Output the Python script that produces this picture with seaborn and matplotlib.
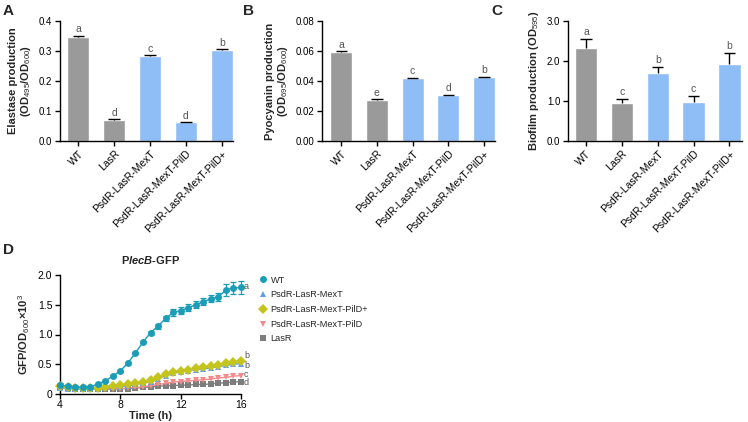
import numpy as np
import pandas as pd
import matplotlib
matplotlib.use("Agg")
import matplotlib.pyplot as plt
import seaborn as sns
from matplotlib.lines import Line2D

# ---------------- data ----------------
strains = ["WT", "LasR", "PsdR-LasR-MexT", "PsdR-LasR-MexT-PilD", "PsdR-LasR-MexT-PilD+"]
elastase = [0.345, 0.070, 0.282, 0.062, 0.304]
elastase_err = [0.006, 0.002, 0.003, 0.002, 0.003]
elastase_sig = ["a", "d", "c", "d", "b"]
pyocyanin = [0.0591, 0.0271, 0.0417, 0.0308, 0.0428]
pyocyanin_err = [0.0006, 0.0006, 0.0005, 0.0, 0.0]
pyocyanin_sig = ["a", "e", "c", "d", "b"]
biofilm = [2.33, 0.96, 1.69, 0.97, 1.92]
biofilm_err = [0.22, 0.09, 0.16, 0.15, 0.28]
biofilm_sig = ["a", "c", "b", "c", "b"]

time_h = [4, 4.5, 5, 5.5, 6, 6.5, 7, 7.5, 8, 8.5, 9, 9.5, 10, 10.5, 11, 11.5,
          12, 12.5, 13, 13.5, 14, 14.5, 15, 15.5, 16]
gfp_wt = [0.15, 0.13, 0.12, 0.11, 0.12, 0.17, 0.22, 0.30, 0.39, 0.52, 0.69, 0.87, 1.03,
          1.14, 1.27, 1.37, 1.40, 1.45, 1.50, 1.55, 1.60, 1.63, 1.75, 1.78, 1.79]
gfp_wt_err = [0.03, 0.02, 0.02, 0.02, 0.02, 0.02, 0.02, 0.02, 0.02, 0.02, 0.02, 0.02, 0.03,
              0.04, 0.04, 0.06, 0.06, 0.06, 0.06, 0.06, 0.06, 0.06, 0.10, 0.10, 0.11]
gfp_mext = [0.10, 0.09, 0.09, 0.08, 0.08, 0.09, 0.10, 0.11, 0.12, 0.14, 0.16, 0.18, 0.21,
            0.26, 0.31, 0.35, 0.37, 0.39, 0.41, 0.42, 0.44, 0.46, 0.48, 0.50, 0.51]
gfp_pild_plus = [0.13, 0.11, 0.10, 0.10, 0.10, 0.10, 0.11, 0.13, 0.15, 0.16, 0.18, 0.20, 0.23,
                 0.28, 0.33, 0.37, 0.39, 0.41, 0.43, 0.45, 0.47, 0.49, 0.52, 0.54, 0.55]
gfp_pild = [0.10, 0.09, 0.08, 0.08, 0.08, 0.08, 0.08, 0.09, 0.09, 0.10, 0.11, 0.12, 0.14,
            0.16, 0.18, 0.20, 0.21, 0.22, 0.23, 0.24, 0.25, 0.27, 0.28, 0.30, 0.31]
gfp_lasr = [0.11, 0.10, 0.09, 0.08, 0.08, 0.08, 0.08, 0.08, 0.09, 0.09, 0.10, 0.11, 0.12,
            0.13, 0.14, 0.14, 0.15, 0.15, 0.16, 0.16, 0.17, 0.18, 0.19, 0.20, 0.21]
line_series = ["WT", "PsdR-LasR-MexT", "PsdR-LasR-MexT-PilD+", "PsdR-LasR-MexT-PilD", "LasR"]
line_sig = ["a", "b", "b", "c", "d"]
line_sig_pos = [1.80, 0.48, 0.65, 0.33, 0.19]

# ---------------- style ----------------
sns.set_style("ticks")
plt.rcParams["font.family"] = ["Liberation Sans", "DejaVu Sans"]
plt.rcParams["mathtext.fontset"] = "custom"
plt.rcParams["mathtext.rm"] = "Liberation Sans"
plt.rcParams["mathtext.it"] = "Liberation Sans:italic"
plt.rcParams["mathtext.bf"] = "Liberation Sans:bold"
plt.rcParams["mathtext.bfit"] = "Liberation Sans:bold:italic"

GRAY = "#9a9a9a"
BLUE = "#8fbdf6"
bar_colors = [GRAY, GRAY, BLUE, BLUE, BLUE]
line_colors = {"WT": "#1b9db8", "PsdR-LasR-MexT": "#5e9cf2",
               "PsdR-LasR-MexT-PilD+": "#c4c41c", "PsdR-LasR-MexT-PilD": "#f58a8c",
               "LasR": "#7d7d7d"}
line_markers = {"WT": "o", "PsdR-LasR-MexT": "^", "PsdR-LasR-MexT-PilD+": "D",
                "PsdR-LasR-MexT-PilD": "v", "LasR": "s"}
marker_sizes = {"WT": 5, "PsdR-LasR-MexT": 5, "PsdR-LasR-MexT-PilD+": 5,
                "PsdR-LasR-MexT-PilD": 5, "LasR": 4.5}

YTICK_FS = 7
XTICK_FS = 7.5
LAB_FS = 8
SIG_COLOR = "#555555"

fig = plt.figure(figsize=(7.48, 4.22), dpi=100)
W, H = 748, 422


def add_axes_px(x0, x1, ytop, ybot):
    return fig.add_axes([x0 / W, 1 - ybot / H, (x1 - x0) / W, (ybot - ytop) / H])


def style_axes(ax):
    sns.despine(ax=ax)
    for s in ["left", "bottom"]:
        ax.spines[s].set_linewidth(1.0)
        ax.spines[s].set_color("black")
    ax.tick_params(axis="both", direction="out", length=3.5, width=1.0,
                   colors="black", pad=2)
    ax.tick_params(axis="y", labelsize=YTICK_FS)
    ax.tick_params(axis="x", labelsize=XTICK_FS)


def bar_panel(ax, values, errs, sig, ylim, yticks, yfmt, ylabel, xlim, sig_off):
    df = pd.DataFrame({"strain": strains, "value": values})
    sns.barplot(data=df, x="strain", y="value", hue="strain", palette=bar_colors,
                order=strains, hue_order=strains, width=0.62, legend=False,
                errorbar=None, saturation=1, ax=ax)
    x = np.arange(len(strains))
    v = np.array(values)
    e = np.array(errs)
    ax.vlines(x, v, v + e, color="black", lw=1.0, zorder=3)
    ax.hlines(v + e, x - 0.16, x + 0.16, color="black", lw=1.0, zorder=3)
    for xi, vi, ei, s in zip(x, v, e, sig):
        ax.text(xi, vi + ei + sig_off, s, ha="center", va="bottom",
                fontsize=7.5, color=SIG_COLOR)
    ax.set_ylim(*ylim)
    ax.set_xlim(*xlim)
    ax.set_yticks(yticks)
    ax.set_yticklabels([yfmt.format(t) for t in yticks])
    ax.set_xlabel("")
    ax.set_ylabel(ylabel, fontsize=LAB_FS, fontweight="bold", labelpad=4,
                  linespacing=1.1)
    style_axes(ax)
    ax.set_xticks(x)
    ax.set_xticklabels(strains, rotation=45, ha="right", rotation_mode="anchor")


axA = add_axes_px(60, 233, 21, 141)
bar_panel(axA, elastase, elastase_err, elastase_sig, (0, 0.4),
          [0, 0.1, 0.2, 0.3, 0.4], "{:.1f}",
          "Elastase production\n(OD$_{495}$/OD$_{600}$)", (-0.51, 4.31), 0.004)

axB = add_axes_px(322, 495, 21, 141)
bar_panel(axB, pyocyanin, pyocyanin_err, pyocyanin_sig, (0, 0.08),
          [0, 0.02, 0.04, 0.06, 0.08], "{:.2f}",
          "Pyocyanin production\n(OD$_{695}$/OD$_{600}$)", (-0.54, 4.31), 0.0009)

axC = add_axes_px(568, 742, 21, 141)
bar_panel(axC, biofilm, biofilm_err, biofilm_sig, (0, 3.0),
          [0, 1.0, 2.0, 3.0], "{:.1f}",
          "Biofilm production (OD$_{595}$)", (-0.5, 4.35), 0.05)

# ---------------- panel D ----------------
axD = add_axes_px(60, 241, 275, 394)
series_vals = {"WT": gfp_wt, "PsdR-LasR-MexT": gfp_mext,
               "PsdR-LasR-MexT-PilD+": gfp_pild_plus,
               "PsdR-LasR-MexT-PilD": gfp_pild, "LasR": gfp_lasr}
rows = []
for name in line_series:
    for t, val in zip(time_h, series_vals[name]):
        rows.append({"time": t, "value": val, "strain": name})
dfl = pd.DataFrame(rows)

plot_order = ["LasR", "PsdR-LasR-MexT-PilD", "PsdR-LasR-MexT", "PsdR-LasR-MexT-PilD+", "WT"]
for name in plot_order:
    sub = dfl[dfl["strain"] == name]
    sns.lineplot(data=sub, x="time", y="value", color=line_colors[name],
                 marker=line_markers[name], markersize=marker_sizes[name],
                 markeredgewidth=0, linewidth=1.0, legend=False, ax=axD,
                 clip_on=False, zorder=3)
axD.errorbar(time_h, gfp_wt, yerr=gfp_wt_err, fmt="none", ecolor=line_colors["WT"],
             elinewidth=0.9, capsize=2.5, capthick=0.9, zorder=2, clip_on=False)

axD.set_xlim(4, 16)
axD.set_ylim(0, 2.0)
axD.set_xticks([4, 8, 12, 16])
axD.set_yticks([0, 0.5, 1.0, 1.5, 2.0])
axD.set_yticklabels(["0", "0.5", "1.0", "1.5", "2.0"])
style_axes(axD)
axD.tick_params(axis="x", labelsize=YTICK_FS + 0.5, pad=1)
axD.tick_params(axis="y", labelsize=YTICK_FS + 0.5)
axD.set_xlabel("Time (h)", fontsize=LAB_FS, fontweight="bold", labelpad=0.5)
axD.set_ylabel("GFP/OD$_{600}$×10$^{3}$", fontsize=LAB_FS, fontweight="bold", labelpad=4)
axD.set_title(r"P$\mathbfit{lecB}$-GFP", fontsize=LAB_FS, fontweight="bold", pad=8)

for name, s, ypos in zip(line_series, line_sig, line_sig_pos):
    axD.text(16.2, ypos, s, ha="left", va="center",
             fontsize=6.5, color=SIG_COLOR, clip_on=False)

handles = [Line2D([], [], linestyle="none", marker=line_markers[n], color=line_colors[n],
                  markersize=marker_sizes[n], markeredgewidth=0) for n in line_series]
fig.legend(handles, line_series, loc="upper left", bbox_to_anchor=(254 / W, 1 - 272 / H),
           frameon=False, fontsize=6.6, handletextpad=0.2, labelspacing=0.62,
           handlelength=1.2, borderaxespad=0)

# panel letters
for lab, x, y in [("A", 3, 11), ("B", 243, 11), ("C", 491, 11), ("D", 3, 250)]:
    fig.text(x / W, 1 - y / H, lab, fontsize=11, fontweight="bold", va="center", ha="left")

fig.savefig("out.png", dpi=100)
